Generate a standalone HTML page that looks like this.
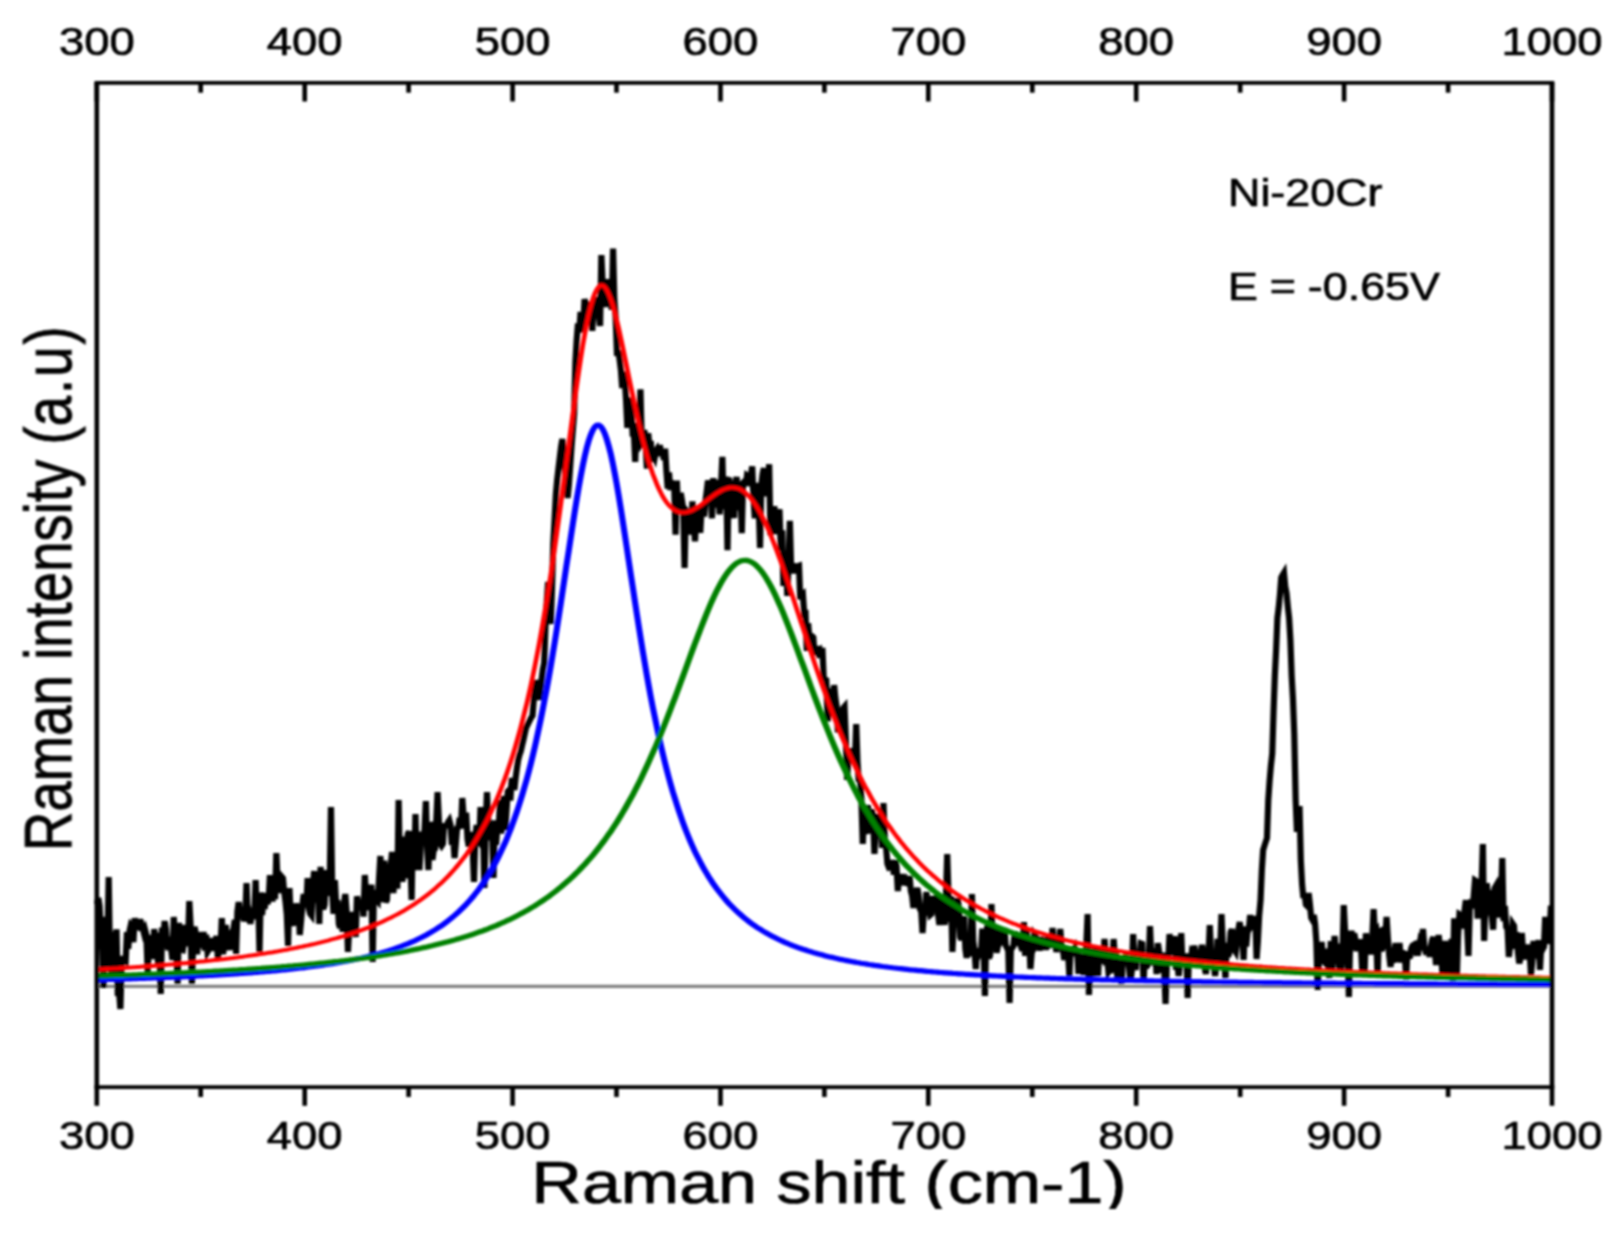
<!DOCTYPE html>
<html><head><meta charset="utf-8"><title>Raman spectrum Ni-20Cr</title>
<style>
html,body{margin:0;padding:0;background:#fff;}
body{width:1619px;height:1240px;overflow:hidden;}
svg{display:block;}
text{font-family:"Liberation Sans",Arial,sans-serif;fill:#000;stroke:#000;stroke-width:0.7px;}
</style></head><body>
<svg width="1619" height="1240" viewBox="0 0 1619 1240">
<defs><clipPath id="xt"><rect x="400" y="1120" width="900" height="88.6"/></clipPath><filter id="soft" filterUnits="userSpaceOnUse" x="0" y="0" width="1619" height="1240"><feGaussianBlur stdDeviation="0.8"/></filter></defs>
<rect width="1619" height="1240" fill="#fff"/>
<g filter="url(#soft)">
<g id="plot" transform="scale(1.170,1)" fill="none">
<line x1="82.7" y1="986.3" x2="1326.5" y2="986.3" stroke="#808080" stroke-width="3.2"/>
<path d="M82.9,904.0 L84.0,897.8 L85.1,906.0 L86.2,934.2 L87.4,950.1 L88.5,988.0 L89.6,928.0 L90.7,916.9 L91.8,944.8 L92.9,877.0 L94.0,962.4 L95.1,977.3 L96.2,978.0 L97.4,931.7 L98.5,940.0 L99.6,929.4 L100.7,996.0 L101.8,992.0 L102.9,1009.0 L104.0,962.7 L105.1,956.3 L106.2,960.0 L107.4,961.2 L108.5,932.0 L109.6,948.9 L110.7,930.9 L111.8,925.0 L112.9,926.5 L114.0,942.2 L115.1,918.0 L116.2,926.5 L117.4,921.9 L118.5,930.0 L119.6,918.9 L120.7,930.8 L121.8,928.0 L122.9,932.9 L124.0,929.8 L125.1,934.6 L126.2,972.0 L127.4,943.5 L128.5,950.4 L129.6,935.0 L130.7,959.2 L131.8,929.0 L132.9,950.3 L134.0,932.6 L135.1,965.0 L136.2,952.6 L137.4,994.0 L138.5,927.6 L139.6,940.1 L140.7,921.0 L141.8,929.1 L142.9,945.4 L144.0,950.0 L145.1,936.6 L146.2,948.4 L147.4,960.1 L148.5,917.0 L149.6,939.9 L150.7,950.7 L151.8,984.0 L152.9,922.9 L154.0,936.1 L155.1,950.0 L156.2,950.4 L157.4,940.7 L158.5,925.0 L159.6,946.0 L160.7,941.8 L161.8,901.0 L162.9,925.5 L164.0,984.0 L165.1,945.0 L166.2,926.7 L167.4,933.0 L168.5,954.3 L169.6,932.1 L170.7,940.0 L171.8,948.0 L172.9,940.2 L174.0,932.0 L175.1,950.7 L176.2,934.8 L177.4,952.0 L178.5,949.8 L179.6,939.8 L180.7,951.0 L181.8,938.0 L182.9,945.9 L184.0,942.5 L185.1,935.9 L186.2,958.0 L187.4,948.4 L188.5,946.7 L189.6,918.0 L190.7,954.3 L191.8,940.2 L192.9,925.0 L194.0,945.8 L195.1,943.0 L196.2,950.0 L197.4,934.7 L198.5,931.2 L199.6,928.7 L200.7,919.8 L201.8,954.0 L202.9,911.6 L204.0,902.0 L205.1,912.1 L206.2,918.9 L207.4,910.0 L208.5,921.3 L209.6,917.5 L210.7,883.0 L211.8,918.0 L212.9,915.3 L214.0,924.0 L215.1,914.4 L216.2,908.0 L217.4,914.6 L218.5,880.0 L219.6,919.3 L220.7,899.3 L221.8,952.0 L222.9,892.5 L224.0,915.0 L225.1,901.3 L226.2,909.0 L227.4,893.0 L228.5,904.1 L229.6,900.0 L230.7,875.2 L231.8,884.0 L232.9,901.5 L234.0,880.0 L235.1,899.1 L236.2,853.0 L237.4,886.1 L238.5,892.9 L239.6,886.1 L240.7,876.5 L241.8,878.0 L242.9,892.0 L244.0,901.5 L245.1,914.2 L246.2,946.0 L247.4,888.0 L248.5,918.1 L249.6,926.0 L250.7,912.3 L251.8,925.5 L252.9,903.3 L254.0,919.4 L255.1,904.0 L256.2,935.0 L257.4,920.0 L258.5,904.6 L259.6,894.0 L260.7,896.8 L261.8,907.5 L262.9,878.0 L264.0,908.9 L265.1,914.0 L266.2,915.6 L267.4,886.0 L268.5,871.0 L269.6,894.7 L270.7,902.5 L271.8,888.8 L272.9,924.0 L274.0,866.8 L275.1,901.2 L276.2,909.4 L277.4,905.0 L278.5,870.0 L279.6,896.0 L280.7,871.5 L281.8,881.5 L282.9,807.0 L284.0,894.1 L285.1,913.8 L286.2,880.0 L287.4,906.3 L288.5,900.0 L289.6,924.0 L290.7,928.0 L291.8,907.2 L292.9,932.0 L294.0,903.4 L295.1,894.0 L296.2,910.3 L297.4,952.0 L298.5,927.5 L299.6,933.6 L300.7,912.0 L301.8,923.6 L302.9,918.0 L304.0,937.0 L305.1,896.2 L306.2,902.4 L307.4,910.0 L308.5,902.3 L309.6,901.8 L310.7,916.6 L311.8,875.0 L312.9,895.9 L314.0,910.3 L315.1,896.1 L316.2,890.0 L317.4,884.9 L318.5,962.0 L319.6,890.0 L320.7,894.6 L321.8,900.0 L322.9,901.5 L324.0,878.0 L325.1,856.0 L326.2,881.1 L327.4,902.0 L328.5,860.6 L329.6,902.4 L330.7,900.1 L331.8,873.8 L332.9,866.0 L334.0,865.8 L335.1,851.9 L336.2,893.0 L337.4,873.4 L338.5,872.9 L339.6,888.6 L340.7,800.0 L341.8,869.2 L342.9,849.9 L344.0,882.0 L345.1,836.5 L346.2,878.4 L347.4,857.7 L348.5,834.0 L349.6,831.1 L350.7,855.2 L351.8,900.0 L352.9,831.3 L354.0,870.3 L355.1,814.0 L356.2,866.7 L357.4,858.4 L358.5,870.0 L359.6,846.9 L360.7,831.7 L361.8,845.4 L362.9,828.6 L364.0,801.0 L365.1,848.0 L366.2,870.0 L367.4,822.2 L368.5,825.8 L369.6,860.0 L370.7,849.9 L371.8,849.0 L372.9,820.6 L374.0,792.0 L375.1,819.6 L376.2,843.8 L377.4,846.0 L378.5,844.0 L379.6,823.4 L380.7,826.3 L381.8,826.0 L382.9,822.0 L384.0,820.1 L385.1,825.0 L386.2,844.9 L387.4,838.2 L388.5,858.0 L389.6,843.2 L390.7,827.9 L391.8,827.3 L392.9,817.7 L394.0,828.5 L395.1,798.0 L396.2,815.5 L397.4,814.9 L398.5,815.0 L399.6,839.2 L400.7,846.7 L401.8,832.0 L402.9,841.8 L404.0,848.8 L405.1,882.0 L406.2,837.5 L407.4,824.9 L408.5,840.0 L409.6,841.8 L410.7,807.0 L411.8,839.3 L412.9,828.9 L414.0,888.0 L415.1,825.6 L416.2,792.0 L417.4,820.3 L418.5,840.0 L419.6,834.6 L420.7,834.5 L421.8,878.0 L422.9,820.3 L424.0,844.8 L425.1,826.6 L426.2,830.0 L427.4,800.0 L428.5,833.6 L429.6,803.7 L430.7,796.1 L431.8,830.0 L432.9,810.8 L434.0,791.2 L435.1,790.0 L436.2,800.5 L437.4,778.0 L438.5,784.0 L439.6,790.0 L440.7,778.0 L441.8,768.2 L442.9,760.0 L444.0,755.0 L445.1,751.4 L446.2,745.5 L447.4,739.7 L448.5,733.8 L449.6,728.0 L450.7,725.4 L451.8,722.8 L452.9,720.2 L454.0,717.6 L455.1,716.0 L456.2,699.8 L457.4,688.1 L458.5,680.0 L459.6,691.3 L460.7,700.0 L461.8,689.8 L462.9,679.5 L464.0,669.3 L465.1,663.0 L466.2,627.0 L467.4,600.0 L468.5,582.0 L469.6,601.6 L470.7,624.0 L471.8,589.0 L472.9,543.5 L474.0,519.0 L475.1,494.3 L476.2,480.0 L477.4,467.7 L478.5,457.0 L479.6,446.4 L480.7,439.0 L481.8,456.6 L482.9,470.0 L484.0,482.1 L485.1,498.0 L486.2,484.7 L487.4,465.5 L488.5,446.3 L489.6,430.0 L490.7,414.0 L491.8,362.0 L492.9,340.0 L494.0,323.5 L495.1,332.5 L496.2,312.0 L497.4,331.5 L498.5,327.2 L499.6,299.0 L500.7,304.0 L501.8,321.8 L502.9,312.0 L504.0,304.8 L505.1,302.4 L506.2,331.0 L507.4,302.9 L508.5,315.3 L509.6,297.0 L510.7,314.6 L511.8,315.1 L512.9,326.0 L514.0,255.0 L515.1,284.7 L516.2,307.0 L517.4,291.0 L518.5,279.0 L519.6,307.0 L520.7,283.6 L521.8,298.5 L522.9,309.7 L524.0,248.5 L525.1,300.0 L526.2,317.5 L527.4,356.0 L528.5,350.5 L529.6,360.0 L530.7,370.2 L531.8,388.1 L532.9,372.0 L534.0,378.9 L535.1,400.0 L536.2,428.0 L537.4,397.8 L538.5,402.4 L539.6,410.0 L540.7,433.4 L541.8,433.1 L542.9,462.0 L544.0,423.1 L545.1,431.2 L546.2,434.0 L547.4,389.3 L548.5,442.7 L549.6,440.7 L550.7,430.0 L551.8,443.3 L552.9,468.7 L554.0,433.2 L555.1,445.7 L556.2,440.9 L557.4,461.9 L558.5,454.5 L559.6,457.5 L560.7,450.7 L561.8,448.7 L562.9,452.0 L564.0,445.0 L565.1,456.1 L566.2,448.7 L567.4,459.9 L568.5,448.6 L569.6,471.0 L570.7,488.7 L571.8,472.5 L572.9,490.0 L574.0,482.5 L575.1,482.9 L576.2,484.0 L577.4,534.7 L578.5,480.5 L579.6,512.4 L580.7,499.0 L581.8,492.9 L582.9,500.6 L584.0,508.9 L585.1,568.0 L586.2,509.8 L587.4,511.5 L588.5,520.0 L589.6,522.2 L590.7,534.6 L591.8,501.3 L592.9,522.0 L594.0,541.4 L595.1,516.6 L596.2,525.0 L597.4,508.1 L598.5,533.0 L599.6,509.5 L600.7,505.0 L601.8,516.6 L602.9,501.6 L604.0,491.6 L605.1,480.5 L606.2,484.8 L607.4,483.7 L608.5,518.4 L609.6,478.0 L610.7,507.3 L611.8,498.4 L612.9,480.0 L614.0,492.6 L615.1,514.4 L616.2,487.4 L617.4,456.8 L618.5,506.6 L619.6,506.3 L620.7,476.5 L621.8,550.3 L622.9,477.8 L624.0,483.9 L625.1,500.0 L626.2,512.9 L627.4,518.0 L628.5,483.9 L629.6,476.8 L630.7,510.3 L631.8,489.7 L632.9,487.5 L634.0,533.2 L635.1,482.6 L636.2,481.3 L637.4,486.0 L638.5,475.1 L639.6,476.0 L640.7,479.1 L641.8,475.3 L642.9,466.4 L644.0,497.3 L645.1,518.4 L646.2,505.0 L647.4,482.8 L648.5,505.5 L649.6,548.0 L650.7,484.8 L651.8,473.8 L652.9,468.0 L654.0,496.4 L655.1,480.0 L656.2,494.6 L657.4,464.2 L658.5,535.2 L659.6,518.4 L660.7,526.3 L661.8,506.1 L662.9,533.8 L664.0,529.4 L665.1,516.0 L666.2,509.3 L667.4,551.0 L668.5,530.2 L669.6,586.0 L670.7,575.0 L671.8,550.8 L672.9,596.0 L674.0,561.7 L675.1,520.8 L676.2,568.9 L677.4,564.7 L678.5,573.3 L679.6,566.0 L680.7,566.7 L681.8,565.7 L682.9,565.3 L684.0,599.4 L685.1,595.1 L686.2,594.0 L687.4,614.0 L688.5,613.5 L689.6,650.8 L690.7,623.3 L691.8,638.4 L692.9,649.0 L694.0,636.0 L695.1,637.2 L696.2,654.9 L697.4,650.8 L698.5,646.2 L699.6,652.5 L700.7,651.0 L701.8,657.9 L702.9,647.8 L704.0,677.7 L705.1,679.0 L706.2,679.7 L707.4,721.2 L708.5,706.5 L709.6,692.6 L710.7,694.1 L711.8,711.4 L712.9,685.0 L714.0,698.2 L715.1,706.6 L716.2,732.4 L717.4,725.0 L718.5,708.0 L719.6,735.0 L720.7,707.9 L721.8,706.4 L722.9,738.2 L724.0,779.9 L725.1,758.0 L726.2,762.7 L727.4,748.2 L728.5,760.0 L729.6,753.1 L730.7,761.6 L731.8,724.2 L732.9,761.8 L734.0,781.7 L735.1,778.4 L736.2,798.6 L737.4,844.0 L738.5,812.8 L739.6,834.2 L740.7,817.3 L741.8,805.1 L742.9,833.7 L744.0,814.0 L745.1,809.5 L746.2,817.5 L747.4,854.0 L748.5,822.5 L749.6,814.0 L750.7,823.0 L751.8,818.2 L752.9,829.1 L754.0,847.9 L755.1,803.0 L756.2,838.7 L757.4,848.0 L758.5,864.0 L759.6,867.3 L760.7,866.5 L761.8,870.0 L762.9,860.0 L764.0,874.7 L765.1,860.5 L766.2,865.7 L767.4,891.0 L768.5,875.7 L769.6,878.6 L770.7,874.0 L771.8,885.0 L772.9,881.9 L774.0,879.8 L775.1,883.2 L776.2,884.1 L777.4,876.0 L778.5,891.2 L779.6,895.8 L780.7,908.0 L781.8,893.0 L782.9,891.8 L784.0,888.0 L785.1,894.5 L786.2,909.1 L787.4,911.5 L788.5,933.0 L789.6,912.4 L790.7,912.6 L791.8,892.0 L792.9,915.1 L794.0,908.1 L795.1,915.1 L796.2,914.0 L797.4,895.9 L798.5,904.4 L799.6,900.0 L800.7,895.7 L801.8,914.8 L802.9,925.0 L804.0,897.4 L805.1,904.2 L806.2,912.0 L807.4,924.9 L808.5,896.8 L809.6,854.0 L810.7,895.9 L811.8,921.9 L812.9,896.4 L814.0,952.0 L815.1,923.2 L816.2,911.1 L817.4,920.1 L818.5,898.0 L819.6,908.4 L820.7,937.4 L821.8,940.0 L822.9,921.3 L824.0,916.2 L825.1,948.8 L826.2,958.0 L827.4,945.6 L828.5,956.2 L829.6,946.6 L830.7,894.0 L831.8,941.1 L832.9,950.2 L834.0,969.1 L835.1,948.2 L836.2,956.0 L837.4,953.2 L838.5,952.4 L839.6,928.5 L840.7,944.5 L841.8,996.0 L842.9,935.7 L844.0,925.0 L845.1,958.4 L846.2,955.7 L847.4,904.0 L848.5,946.6 L849.6,931.8 L850.7,926.8 L851.8,952.8 L852.9,946.0 L854.0,944.2 L855.1,934.0 L856.2,927.2 L857.4,945.0 L858.5,927.9 L859.6,945.6 L860.7,948.0 L861.8,950.9 L862.9,1003.0 L864.0,948.8 L865.1,948.1 L866.2,946.0 L867.4,931.3 L868.5,940.8 L869.6,939.2 L870.7,942.5 L871.8,942.0 L872.9,947.8 L874.0,951.0 L875.1,922.0 L876.2,955.8 L877.4,930.8 L878.5,946.2 L879.6,940.5 L880.7,969.0 L881.8,952.7 L882.9,950.2 L884.0,934.2 L885.1,936.0 L886.2,947.0 L887.4,940.4 L888.5,950.8 L889.6,936.6 L890.7,942.7 L891.8,942.1 L892.9,941.9 L894.0,950.0 L895.1,939.0 L896.2,935.6 L897.4,944.7 L898.5,947.7 L899.6,928.0 L900.7,942.7 L901.8,938.3 L902.9,952.0 L904.0,944.9 L905.1,947.7 L906.2,929.0 L907.4,946.9 L908.5,949.9 L909.6,959.9 L910.7,956.0 L911.8,947.8 L912.9,952.7 L914.0,976.0 L915.1,946.9 L916.2,951.5 L917.4,950.7 L918.5,948.2 L919.6,956.0 L920.7,950.6 L921.8,973.8 L922.9,960.0 L924.0,956.8 L925.1,957.9 L926.2,975.1 L927.4,958.7 L928.5,943.8 L929.6,914.0 L930.7,995.0 L931.8,965.1 L932.9,948.3 L934.0,976.3 L935.1,960.0 L936.2,946.2 L937.4,955.2 L938.5,976.0 L939.6,948.7 L940.7,963.7 L941.8,951.6 L942.9,961.3 L944.0,939.0 L945.1,958.2 L946.2,956.4 L947.4,972.0 L948.5,970.0 L949.6,970.3 L950.7,964.0 L951.8,939.0 L952.9,957.2 L954.0,956.0 L955.1,980.0 L956.2,966.0 L957.4,973.8 L958.5,984.0 L959.6,960.1 L960.7,958.0 L961.8,959.8 L962.9,957.5 L964.0,960.3 L965.1,968.5 L966.2,982.7 L967.4,970.1 L968.5,934.0 L969.6,962.0 L970.7,970.0 L971.8,949.8 L972.9,961.3 L974.0,956.6 L975.1,943.1 L976.2,943.6 L977.4,982.0 L978.5,955.3 L979.6,968.0 L980.7,965.4 L981.8,962.1 L982.9,926.0 L984.0,957.4 L985.1,964.9 L986.2,960.2 L987.4,948.0 L988.5,974.1 L989.6,943.0 L990.7,951.7 L991.8,970.0 L992.9,970.5 L994.0,952.7 L995.1,972.1 L996.2,1004.0 L997.4,958.4 L998.5,960.8 L999.6,934.0 L1000.7,954.5 L1001.8,943.7 L1002.9,946.2 L1004.0,936.0 L1005.1,969.7 L1006.2,963.0 L1007.4,976.0 L1008.5,962.5 L1009.6,933.0 L1010.7,966.1 L1011.8,962.0 L1012.9,966.6 L1014.0,953.2 L1015.1,998.0 L1016.2,953.8 L1017.4,966.9 L1018.5,953.9 L1019.6,956.0 L1020.7,945.6 L1021.8,956.3 L1022.9,952.9 L1024.0,964.4 L1025.1,950.0 L1026.2,953.0 L1027.4,945.0 L1028.5,952.1 L1029.6,967.5 L1030.7,974.0 L1031.8,954.2 L1032.9,955.8 L1034.0,925.0 L1035.1,954.3 L1036.2,957.2 L1037.4,963.2 L1038.5,976.0 L1039.6,965.2 L1040.7,938.8 L1041.8,962.8 L1042.9,948.8 L1044.0,914.0 L1045.1,943.7 L1046.2,959.0 L1047.4,978.0 L1048.5,942.9 L1049.6,956.7 L1050.7,952.8 L1051.8,932.2 L1052.9,929.0 L1054.0,947.6 L1055.1,950.0 L1056.2,952.0 L1057.4,941.0 L1058.5,929.2 L1059.6,922.0 L1060.7,935.0 L1061.8,935.8 L1062.9,960.0 L1064.0,926.3 L1065.1,946.6 L1066.2,932.2 L1067.4,929.8 L1068.5,915.0 L1069.6,927.0 L1070.7,920.4 L1071.8,930.0 L1072.9,915.9 L1074.0,959.0 L1075.1,941.3 L1076.2,915.7 L1077.4,900.0 L1078.5,870.0 L1079.6,850.0 L1080.7,845.8 L1081.8,841.9 L1082.9,838.0 L1084.0,800.0 L1085.1,781.4 L1086.2,766.3 L1087.4,753.5 L1088.5,712.0 L1089.6,676.0 L1090.7,650.0 L1091.8,618.0 L1092.9,607.6 L1094.0,594.1 L1095.1,577.4 L1096.2,574.9 L1097.4,572.6 L1098.5,586.5 L1099.6,593.0 L1100.7,606.6 L1101.8,618.0 L1102.9,640.0 L1104.0,676.0 L1105.1,699.2 L1106.2,734.0 L1107.4,800.0 L1108.5,832.0 L1109.6,822.9 L1110.7,806.0 L1111.8,860.0 L1112.9,884.3 L1114.0,898.0 L1115.1,894.2 L1116.2,905.0 L1117.4,906.4 L1118.5,893.0 L1119.6,904.5 L1120.7,918.0 L1121.8,920.2 L1122.9,914.8 L1124.0,924.0 L1125.1,942.0 L1126.2,990.0 L1127.4,957.4 L1128.5,948.0 L1129.6,942.0 L1130.7,960.6 L1131.8,962.0 L1132.9,949.1 L1134.0,952.8 L1135.1,960.5 L1136.2,978.0 L1137.4,941.1 L1138.5,971.7 L1139.6,954.2 L1140.7,936.0 L1141.8,953.0 L1142.9,943.6 L1144.0,960.0 L1145.1,971.2 L1146.2,970.3 L1147.4,955.3 L1148.5,905.0 L1149.6,930.4 L1150.7,940.4 L1151.8,956.3 L1152.9,997.0 L1154.0,939.7 L1155.1,930.7 L1156.2,950.0 L1157.4,933.2 L1158.5,939.9 L1159.6,951.3 L1160.7,942.3 L1161.8,950.9 L1162.9,939.0 L1164.0,964.5 L1165.1,963.1 L1166.2,976.0 L1167.4,933.2 L1168.5,949.3 L1169.6,945.8 L1170.7,942.6 L1171.8,954.6 L1172.9,937.1 L1174.0,909.0 L1175.1,934.2 L1176.2,932.2 L1177.4,978.0 L1178.5,933.2 L1179.6,928.0 L1180.7,951.0 L1181.8,947.7 L1182.9,926.8 L1184.0,938.0 L1185.1,917.0 L1186.2,938.2 L1187.4,956.0 L1188.5,967.0 L1189.6,951.3 L1190.7,958.7 L1191.8,951.4 L1192.9,943.1 L1194.0,959.4 L1195.1,958.9 L1196.2,943.0 L1197.4,962.5 L1198.5,950.3 L1199.6,959.0 L1200.7,953.0 L1201.8,979.7 L1202.9,951.3 L1204.0,957.1 L1205.1,956.6 L1206.2,948.2 L1207.4,945.2 L1208.5,944.4 L1209.6,949.0 L1210.7,946.7 L1211.8,955.6 L1212.9,947.4 L1214.0,939.7 L1215.1,941.4 L1216.2,929.0 L1217.4,947.4 L1218.5,951.8 L1219.6,951.2 L1220.7,946.7 L1221.8,957.0 L1222.9,946.7 L1224.0,940.1 L1225.1,937.0 L1226.2,946.2 L1227.4,965.0 L1228.5,948.8 L1229.6,935.0 L1230.7,946.8 L1231.8,953.6 L1232.9,975.0 L1234.0,951.0 L1235.1,941.0 L1236.2,957.3 L1237.4,979.7 L1238.5,966.1 L1239.6,960.2 L1240.7,939.0 L1241.8,981.0 L1242.9,918.4 L1244.0,949.9 L1245.1,979.7 L1246.2,936.3 L1247.4,914.0 L1248.5,914.8 L1249.6,924.0 L1250.7,928.3 L1251.8,910.0 L1252.9,900.1 L1254.0,928.1 L1255.1,956.0 L1256.2,908.7 L1257.4,899.6 L1258.5,908.4 L1259.6,896.1 L1260.7,880.0 L1261.8,880.8 L1262.9,918.6 L1264.0,881.6 L1265.1,912.2 L1266.2,888.6 L1267.4,844.0 L1268.5,941.0 L1269.6,899.8 L1270.7,883.3 L1271.8,899.0 L1272.9,890.1 L1274.0,911.4 L1275.1,917.4 L1276.2,929.7 L1277.4,888.2 L1278.5,886.0 L1279.6,902.7 L1280.7,917.5 L1281.8,899.0 L1282.9,898.5 L1284.0,858.0 L1285.1,921.1 L1286.2,905.8 L1287.4,927.2 L1288.5,928.7 L1289.6,957.0 L1290.7,946.6 L1291.8,939.7 L1292.9,923.7 L1294.0,925.6 L1295.1,948.8 L1296.2,932.2 L1297.4,952.4 L1298.5,963.5 L1299.6,958.1 L1300.7,933.0 L1301.8,953.7 L1302.9,945.8 L1304.0,959.4 L1305.1,953.3 L1306.2,944.7 L1307.4,950.9 L1308.5,974.8 L1309.6,961.9 L1310.7,941.0 L1311.8,949.9 L1312.9,952.4 L1314.0,948.2 L1315.1,940.2 L1316.2,970.0 L1317.4,943.5 L1318.5,949.3 L1319.6,946.8 L1320.7,916.8 L1321.8,940.4 L1322.9,930.4 L1324.0,944.0 L1325.6,905.5" stroke="#000" stroke-width="5.3" stroke-linejoin="miter"/>
<path d="M82.7,969.5 L84.4,969.4 L86.2,969.3 L87.9,969.2 L89.6,969.1 L91.3,969.0 L93.0,968.8 L94.7,968.7 L96.4,968.6 L98.1,968.5 L99.8,968.4 L101.5,968.2 L103.2,968.1 L105.0,968.0 L106.7,967.8 L108.4,967.7 L110.1,967.6 L111.8,967.4 L113.5,967.3 L115.2,967.2 L116.9,967.0 L118.6,966.9 L120.3,966.7 L122.1,966.6 L123.8,966.5 L125.5,966.3 L127.2,966.2 L128.9,966.0 L130.6,965.9 L132.3,965.7 L134.0,965.5 L135.7,965.4 L137.4,965.2 L139.1,965.1 L140.9,964.9 L142.6,964.7 L144.3,964.6 L146.0,964.4 L147.7,964.2 L149.4,964.1 L151.1,963.9 L152.8,963.7 L154.5,963.5 L156.2,963.3 L157.9,963.2 L159.7,963.0 L161.4,962.8 L163.1,962.6 L164.8,962.4 L166.5,962.2 L168.2,962.0 L169.9,961.8 L171.6,961.6 L173.3,961.4 L175.0,961.2 L176.8,961.0 L178.5,960.8 L180.2,960.6 L181.9,960.3 L183.6,960.1 L185.3,959.9 L187.0,959.7 L188.7,959.4 L190.4,959.2 L192.1,959.0 L193.8,958.7 L195.6,958.5 L197.3,958.2 L199.0,958.0 L200.7,957.7 L202.4,957.5 L204.1,957.2 L205.8,956.9 L207.5,956.7 L209.2,956.4 L210.9,956.1 L212.6,955.8 L214.4,955.6 L216.1,955.3 L217.8,955.0 L219.5,954.7 L221.2,954.4 L222.9,954.1 L224.6,953.8 L226.3,953.5 L228.0,953.1 L229.7,952.8 L231.5,952.5 L233.2,952.2 L234.9,951.8 L236.6,951.5 L238.3,951.1 L240.0,950.8 L241.7,950.4 L243.4,950.0 L245.1,949.7 L246.8,949.3 L248.5,948.9 L250.3,948.5 L252.0,948.1 L253.7,947.7 L255.4,947.3 L257.1,946.9 L258.8,946.5 L260.5,946.0 L262.2,945.6 L263.9,945.2 L265.6,944.7 L267.4,944.3 L269.1,943.8 L270.8,943.3 L272.5,942.8 L274.2,942.3 L275.9,941.8 L277.6,941.3 L279.3,940.8 L281.0,940.3 L282.7,939.7 L284.4,939.2 L286.2,938.6 L287.9,938.1 L289.6,937.5 L291.3,936.9 L293.0,936.3 L294.7,935.7 L296.4,935.1 L298.1,934.4 L299.8,933.8 L301.5,933.1 L303.2,932.5 L305.0,931.8 L306.7,931.1 L308.4,930.4 L310.1,929.6 L311.8,928.9 L313.5,928.1 L315.2,927.4 L316.9,926.6 L318.6,925.8 L320.3,924.9 L322.1,924.1 L323.8,923.2 L325.5,922.4 L327.2,921.5 L328.9,920.5 L330.6,919.6 L332.3,918.6 L334.0,917.7 L335.7,916.6 L337.4,915.6 L339.1,914.6 L340.9,913.5 L342.6,912.4 L344.3,911.3 L346.0,910.1 L347.7,908.9 L349.4,907.7 L351.1,906.5 L352.8,905.2 L354.5,903.9 L356.2,902.5 L357.9,901.2 L359.7,899.8 L361.4,898.3 L363.1,896.8 L364.8,895.3 L366.5,893.7 L368.2,892.1 L369.9,890.5 L371.6,888.8 L373.3,887.0 L375.0,885.2 L376.8,883.4 L378.5,881.5 L380.2,879.5 L381.9,877.5 L383.6,875.5 L385.3,873.3 L387.0,871.1 L388.7,868.9 L390.4,866.5 L392.1,864.1 L393.8,861.6 L395.6,859.0 L397.3,856.4 L399.0,853.7 L400.7,850.8 L402.4,847.9 L404.1,844.9 L405.8,841.8 L407.5,838.5 L409.2,835.2 L410.9,831.7 L412.6,828.1 L414.4,824.4 L416.1,820.6 L417.8,816.6 L419.5,812.4 L421.2,808.1 L422.9,803.7 L424.6,799.1 L426.3,794.3 L428.0,789.3 L429.7,784.1 L431.5,778.7 L433.2,773.1 L434.9,767.3 L436.6,761.3 L438.3,755.0 L440.0,748.4 L441.7,741.6 L443.4,734.5 L445.1,727.1 L446.8,719.5 L448.5,711.5 L450.3,703.1 L452.0,694.5 L453.7,685.5 L455.4,676.1 L457.1,666.4 L458.8,656.2 L460.5,645.7 L462.2,634.8 L463.9,623.5 L465.6,611.8 L467.4,599.6 L469.1,587.1 L470.8,574.2 L472.5,560.8 L474.2,547.2 L475.9,533.1 L477.6,518.8 L479.3,504.2 L481.0,489.3 L482.7,474.3 L484.4,459.2 L486.2,444.0 L487.9,429.0 L489.6,414.0 L491.3,399.4 L493.0,385.1 L494.7,371.2 L496.4,358.1 L498.1,345.6 L499.8,334.1 L501.5,323.5 L503.2,314.1 L505.0,305.8 L506.7,298.9 L508.4,293.4 L510.1,289.3 L511.8,286.6 L513.5,285.3 L515.2,285.5 L516.9,287.1 L518.6,290.0 L520.3,294.1 L522.1,299.3 L523.8,305.6 L525.5,312.7 L527.2,320.5 L528.9,329.0 L530.6,338.0 L532.3,347.4 L534.0,357.0 L535.7,366.7 L537.4,376.5 L539.1,386.2 L540.9,395.8 L542.6,405.3 L544.3,414.4 L546.0,423.2 L547.7,431.7 L549.4,439.8 L551.1,447.5 L552.8,454.7 L554.5,461.5 L556.2,467.9 L557.9,473.8 L559.7,479.2 L561.4,484.2 L563.1,488.7 L564.8,492.8 L566.5,496.5 L568.2,499.7 L569.9,502.6 L571.6,505.0 L573.3,507.1 L575.0,508.8 L576.8,510.1 L578.5,511.2 L580.2,511.9 L581.9,512.4 L583.6,512.5 L585.3,512.4 L587.0,512.1 L588.7,511.6 L590.4,510.9 L592.1,510.0 L593.8,508.9 L595.6,507.7 L597.3,506.4 L599.0,505.1 L600.7,503.6 L602.4,502.1 L604.1,500.6 L605.8,499.0 L607.5,497.5 L609.2,496.0 L610.9,494.6 L612.6,493.2 L614.4,492.0 L616.1,490.8 L617.8,489.8 L619.5,489.0 L621.2,488.3 L622.9,487.8 L624.6,487.6 L626.3,487.5 L628.0,487.7 L629.7,488.1 L631.5,488.7 L633.2,489.7 L634.9,490.9 L636.6,492.3 L638.3,494.0 L640.0,496.1 L641.7,498.3 L643.4,500.9 L645.1,503.7 L646.8,506.8 L648.5,510.2 L650.3,513.8 L652.0,517.7 L653.7,521.8 L655.4,526.1 L657.1,530.6 L658.8,535.4 L660.5,540.3 L662.2,545.4 L663.9,550.7 L665.6,556.1 L667.4,561.6 L669.1,567.3 L670.8,573.0 L672.5,578.9 L674.2,584.8 L675.9,590.8 L677.6,596.9 L679.3,603.0 L681.0,609.1 L682.7,615.2 L684.4,621.4 L686.2,627.5 L687.9,633.6 L689.6,639.7 L691.3,645.8 L693.0,651.8 L694.7,657.8 L696.4,663.7 L698.1,669.6 L699.8,675.4 L701.5,681.1 L703.2,686.8 L705.0,692.4 L706.7,697.9 L708.4,703.3 L710.1,708.7 L711.8,713.9 L713.5,719.1 L715.2,724.2 L716.9,729.2 L718.6,734.1 L720.3,738.9 L722.1,743.6 L723.8,748.2 L725.5,752.8 L727.2,757.2 L728.9,761.6 L730.6,765.8 L732.3,770.0 L734.0,774.1 L735.7,778.1 L737.4,782.0 L739.1,785.8 L740.9,789.5 L742.6,793.2 L744.3,796.8 L746.0,800.3 L747.7,803.7 L749.4,807.0 L751.1,810.3 L752.8,813.5 L754.5,816.6 L756.2,819.7 L757.9,822.7 L759.7,825.6 L761.4,828.4 L763.1,831.2 L764.8,834.0 L766.5,836.6 L768.2,839.2 L769.9,841.8 L771.6,844.2 L773.3,846.7 L775.0,849.0 L776.8,851.4 L778.5,853.6 L780.2,855.9 L781.9,858.0 L783.6,860.1 L785.3,862.2 L787.0,864.2 L788.7,866.2 L790.4,868.2 L792.1,870.1 L793.8,871.9 L795.6,873.7 L797.3,875.5 L799.0,877.2 L800.7,878.9 L802.4,880.6 L804.1,882.2 L805.8,883.8 L807.5,885.4 L809.2,886.9 L810.9,888.4 L812.6,889.9 L814.4,891.3 L816.1,892.7 L817.8,894.1 L819.5,895.4 L821.2,896.7 L822.9,898.0 L824.6,899.3 L826.3,900.5 L828.0,901.8 L829.7,902.9 L831.5,904.1 L833.2,905.3 L834.9,906.4 L836.6,907.5 L838.3,908.6 L840.0,909.6 L841.7,910.6 L843.4,911.7 L845.1,912.7 L846.8,913.6 L848.5,914.6 L850.3,915.5 L852.0,916.5 L853.7,917.4 L855.4,918.3 L857.1,919.1 L858.8,920.0 L860.5,920.8 L862.2,921.7 L863.9,922.5 L865.6,923.3 L867.4,924.0 L869.1,924.8 L870.8,925.6 L872.5,926.3 L874.2,927.0 L875.9,927.8 L877.6,928.5 L879.3,929.1 L881.0,929.8 L882.7,930.5 L884.4,931.1 L886.2,931.8 L887.9,932.4 L889.6,933.0 L891.3,933.7 L893.0,934.3 L894.7,934.9 L896.4,935.4 L898.1,936.0 L899.8,936.6 L901.5,937.1 L903.2,937.7 L905.0,938.2 L906.7,938.7 L908.4,939.3 L910.1,939.8 L911.8,940.3 L913.5,940.8 L915.2,941.3 L916.9,941.7 L918.6,942.2 L920.3,942.7 L922.1,943.1 L923.8,943.6 L925.5,944.0 L927.2,944.5 L928.9,944.9 L930.6,945.3 L932.3,945.7 L934.0,946.1 L935.7,946.5 L937.4,946.9 L939.1,947.3 L940.9,947.7 L942.6,948.1 L944.3,948.5 L946.0,948.9 L947.7,949.2 L949.4,949.6 L951.1,949.9 L952.8,950.3 L954.5,950.6 L956.2,951.0 L957.9,951.3 L959.7,951.6 L961.4,952.0 L963.1,952.3 L964.8,952.6 L966.5,952.9 L968.2,953.2 L969.9,953.5 L971.6,953.8 L973.3,954.1 L975.0,954.4 L976.8,954.7 L978.5,955.0 L980.2,955.3 L981.9,955.5 L983.6,955.8 L985.3,956.1 L987.0,956.4 L988.7,956.6 L990.4,956.9 L992.1,957.1 L993.8,957.4 L995.6,957.6 L997.3,957.9 L999.0,958.1 L1000.7,958.4 L1002.4,958.6 L1004.1,958.8 L1005.8,959.1 L1007.5,959.3 L1009.2,959.5 L1010.9,959.7 L1012.6,960.0 L1014.4,960.2 L1016.1,960.4 L1017.8,960.6 L1019.5,960.8 L1021.2,961.0 L1022.9,961.2 L1024.6,961.4 L1026.3,961.6 L1028.0,961.8 L1029.7,962.0 L1031.5,962.2 L1033.2,962.4 L1034.9,962.6 L1036.6,962.8 L1038.3,963.0 L1040.0,963.1 L1041.7,963.3 L1043.4,963.5 L1045.1,963.7 L1046.8,963.8 L1048.5,964.0 L1050.3,964.2 L1052.0,964.3 L1053.7,964.5 L1055.4,964.7 L1057.1,964.8 L1058.8,965.0 L1060.5,965.2 L1062.2,965.3 L1063.9,965.5 L1065.6,965.6 L1067.4,965.8 L1069.1,965.9 L1070.8,966.1 L1072.5,966.2 L1074.2,966.4 L1075.9,966.5 L1077.6,966.6 L1079.3,966.8 L1081.0,966.9 L1082.7,967.1 L1084.4,967.2 L1086.2,967.3 L1087.9,967.5 L1089.6,967.6 L1091.3,967.7 L1093.0,967.9 L1094.7,968.0 L1096.4,968.1 L1098.1,968.2 L1099.8,968.4 L1101.5,968.5 L1103.2,968.6 L1105.0,968.7 L1106.7,968.8 L1108.4,969.0 L1110.1,969.1 L1111.8,969.2 L1113.5,969.3 L1115.2,969.4 L1116.9,969.5 L1118.6,969.6 L1120.3,969.8 L1122.1,969.9 L1123.8,970.0 L1125.5,970.1 L1127.2,970.2 L1128.9,970.3 L1130.6,970.4 L1132.3,970.5 L1134.0,970.6 L1135.7,970.7 L1137.4,970.8 L1139.1,970.9 L1140.9,971.0 L1142.6,971.1 L1144.3,971.2 L1146.0,971.3 L1147.7,971.4 L1149.4,971.5 L1151.1,971.6 L1152.8,971.7 L1154.5,971.7 L1156.2,971.8 L1157.9,971.9 L1159.7,972.0 L1161.4,972.1 L1163.1,972.2 L1164.8,972.3 L1166.5,972.4 L1168.2,972.4 L1169.9,972.5 L1171.6,972.6 L1173.3,972.7 L1175.0,972.8 L1176.8,972.8 L1178.5,972.9 L1180.2,973.0 L1181.9,973.1 L1183.6,973.2 L1185.3,973.2 L1187.0,973.3 L1188.7,973.4 L1190.4,973.5 L1192.1,973.5 L1193.8,973.6 L1195.6,973.7 L1197.3,973.8 L1199.0,973.8 L1200.7,973.9 L1202.4,974.0 L1204.1,974.0 L1205.8,974.1 L1207.5,974.2 L1209.2,974.2 L1210.9,974.3 L1212.6,974.4 L1214.4,974.5 L1216.1,974.5 L1217.8,974.6 L1219.5,974.6 L1221.2,974.7 L1222.9,974.8 L1224.6,974.8 L1226.3,974.9 L1228.0,975.0 L1229.7,975.0 L1231.5,975.1 L1233.2,975.1 L1234.9,975.2 L1236.6,975.3 L1238.3,975.3 L1240.0,975.4 L1241.7,975.4 L1243.4,975.5 L1245.1,975.6 L1246.8,975.6 L1248.5,975.7 L1250.3,975.7 L1252.0,975.8 L1253.7,975.8 L1255.4,975.9 L1257.1,975.9 L1258.8,976.0 L1260.5,976.1 L1262.2,976.1 L1263.9,976.2 L1265.6,976.2 L1267.4,976.3 L1269.1,976.3 L1270.8,976.4 L1272.5,976.4 L1274.2,976.5 L1275.9,976.5 L1277.6,976.6 L1279.3,976.6 L1281.0,976.7 L1282.7,976.7 L1284.4,976.8 L1286.2,976.8 L1287.9,976.9 L1289.6,976.9 L1291.3,977.0 L1293.0,977.0 L1294.7,977.0 L1296.4,977.1 L1298.1,977.1 L1299.8,977.2 L1301.5,977.2 L1303.2,977.3 L1305.0,977.3 L1306.7,977.4 L1308.4,977.4 L1310.1,977.4 L1311.8,977.5 L1313.5,977.5 L1315.2,977.6 L1316.9,977.6 L1318.6,977.7 L1320.3,977.7 L1322.1,977.7 L1323.8,977.8 L1325.5,977.8 L1326.5,977.8" stroke="#ff0000" stroke-width="4.0"/>
<path d="M82.7,979.7 L84.4,979.7 L86.2,979.6 L87.9,979.6 L89.6,979.5 L91.3,979.5 L93.0,979.4 L94.7,979.4 L96.4,979.3 L98.1,979.2 L99.8,979.2 L101.5,979.1 L103.2,979.1 L105.0,979.0 L106.7,979.0 L108.4,978.9 L110.1,978.8 L111.8,978.8 L113.5,978.7 L115.2,978.6 L116.9,978.6 L118.6,978.5 L120.3,978.4 L122.1,978.4 L123.8,978.3 L125.5,978.2 L127.2,978.2 L128.9,978.1 L130.6,978.0 L132.3,977.9 L134.0,977.9 L135.7,977.8 L137.4,977.7 L139.1,977.6 L140.9,977.6 L142.6,977.5 L144.3,977.4 L146.0,977.3 L147.7,977.2 L149.4,977.1 L151.1,977.1 L152.8,977.0 L154.5,976.9 L156.2,976.8 L157.9,976.7 L159.7,976.6 L161.4,976.5 L163.1,976.4 L164.8,976.3 L166.5,976.2 L168.2,976.1 L169.9,976.0 L171.6,975.9 L173.3,975.8 L175.0,975.7 L176.8,975.6 L178.5,975.5 L180.2,975.4 L181.9,975.3 L183.6,975.2 L185.3,975.1 L187.0,974.9 L188.7,974.8 L190.4,974.7 L192.1,974.6 L193.8,974.5 L195.6,974.3 L197.3,974.2 L199.0,974.1 L200.7,973.9 L202.4,973.8 L204.1,973.7 L205.8,973.5 L207.5,973.4 L209.2,973.2 L210.9,973.1 L212.6,973.0 L214.4,972.8 L216.1,972.6 L217.8,972.5 L219.5,972.3 L221.2,972.2 L222.9,972.0 L224.6,971.8 L226.3,971.7 L228.0,971.5 L229.7,971.3 L231.5,971.1 L233.2,971.0 L234.9,970.8 L236.6,970.6 L238.3,970.4 L240.0,970.2 L241.7,970.0 L243.4,969.8 L245.1,969.6 L246.8,969.4 L248.5,969.2 L250.3,969.0 L252.0,968.7 L253.7,968.5 L255.4,968.3 L257.1,968.0 L258.8,967.8 L260.5,967.6 L262.2,967.3 L263.9,967.0 L265.6,966.8 L267.4,966.5 L269.1,966.3 L270.8,966.0 L272.5,965.7 L274.2,965.4 L275.9,965.1 L277.6,964.8 L279.3,964.5 L281.0,964.2 L282.7,963.9 L284.4,963.6 L286.2,963.2 L287.9,962.9 L289.6,962.5 L291.3,962.2 L293.0,961.8 L294.7,961.4 L296.4,961.1 L298.1,960.7 L299.8,960.3 L301.5,959.9 L303.2,959.5 L305.0,959.0 L306.7,958.6 L308.4,958.2 L310.1,957.7 L311.8,957.2 L313.5,956.8 L315.2,956.3 L316.9,955.8 L318.6,955.2 L320.3,954.7 L322.1,954.2 L323.8,953.6 L325.5,953.1 L327.2,952.5 L328.9,951.9 L330.6,951.3 L332.3,950.6 L334.0,950.0 L335.7,949.3 L337.4,948.6 L339.1,947.9 L340.9,947.2 L342.6,946.5 L344.3,945.7 L346.0,944.9 L347.7,944.1 L349.4,943.3 L351.1,942.4 L352.8,941.6 L354.5,940.7 L356.2,939.7 L357.9,938.8 L359.7,937.8 L361.4,936.8 L363.1,935.7 L364.8,934.7 L366.5,933.5 L368.2,932.4 L369.9,931.2 L371.6,930.0 L373.3,928.7 L375.0,927.4 L376.8,926.1 L378.5,924.7 L380.2,923.2 L381.9,921.8 L383.6,920.2 L385.3,918.6 L387.0,917.0 L388.7,915.3 L390.4,913.5 L392.1,911.7 L393.8,909.8 L395.6,907.8 L397.3,905.8 L399.0,903.7 L400.7,901.5 L402.4,899.2 L404.1,896.9 L405.8,894.4 L407.5,891.9 L409.2,889.3 L410.9,886.5 L412.6,883.6 L414.4,880.7 L416.1,877.6 L417.8,874.4 L419.5,871.0 L421.2,867.5 L422.9,863.9 L424.6,860.1 L426.3,856.2 L428.0,852.0 L429.7,847.8 L431.5,843.3 L433.2,838.6 L434.9,833.7 L436.6,828.6 L438.3,823.3 L440.0,817.8 L441.7,812.0 L443.4,805.9 L445.1,799.6 L446.8,793.0 L448.5,786.1 L450.3,778.9 L452.0,771.4 L453.7,763.6 L455.4,755.4 L457.1,746.9 L458.8,738.0 L460.5,728.8 L462.2,719.2 L463.9,709.2 L465.6,698.9 L467.4,688.1 L469.1,677.0 L470.8,665.6 L472.5,653.7 L474.2,641.6 L475.9,629.1 L477.6,616.4 L479.3,603.4 L481.0,590.2 L482.7,576.9 L484.4,563.5 L486.2,550.2 L487.9,536.9 L489.6,523.9 L491.3,511.1 L493.0,498.8 L494.7,487.0 L496.4,475.8 L498.1,465.5 L499.8,456.1 L501.5,447.7 L503.2,440.6 L505.0,434.6 L506.7,430.1 L508.4,426.9 L510.1,425.3 L511.8,425.1 L513.5,426.5 L515.2,429.3 L516.9,433.6 L518.6,439.3 L520.3,446.2 L522.1,454.3 L523.8,463.6 L525.5,473.7 L527.2,484.7 L528.9,496.4 L530.6,508.6 L532.3,521.3 L534.0,534.3 L535.7,547.5 L537.4,560.9 L539.1,574.2 L540.9,587.6 L542.6,600.8 L544.3,613.8 L546.0,626.6 L547.7,639.1 L549.4,651.3 L551.1,663.2 L552.8,674.8 L554.5,686.0 L556.2,696.8 L557.9,707.2 L559.7,717.2 L561.4,726.9 L563.1,736.2 L564.8,745.2 L566.5,753.8 L568.2,762.0 L569.9,769.9 L571.6,777.5 L573.3,784.7 L575.0,791.7 L576.8,798.3 L578.5,804.7 L580.2,810.8 L581.9,816.6 L583.6,822.2 L585.3,827.6 L587.0,832.7 L588.7,837.6 L590.4,842.4 L592.1,846.9 L593.8,851.2 L595.6,855.4 L597.3,859.3 L599.0,863.2 L600.7,866.8 L602.4,870.3 L604.1,873.7 L605.8,877.0 L607.5,880.1 L609.2,883.1 L610.9,885.9 L612.6,888.7 L614.4,891.4 L616.1,893.9 L617.8,896.4 L619.5,898.8 L621.2,901.1 L622.9,903.3 L624.6,905.4 L626.3,907.4 L628.0,909.4 L629.7,911.3 L631.5,913.2 L633.2,914.9 L634.9,916.7 L636.6,918.3 L638.3,919.9 L640.0,921.5 L641.7,923.0 L643.4,924.4 L645.1,925.8 L646.8,927.2 L648.5,928.5 L650.3,929.7 L652.0,931.0 L653.7,932.2 L655.4,933.3 L657.1,934.4 L658.8,935.5 L660.5,936.6 L662.2,937.6 L663.9,938.6 L665.6,939.5 L667.4,940.5 L669.1,941.4 L670.8,942.3 L672.5,943.1 L674.2,944.0 L675.9,944.8 L677.6,945.6 L679.3,946.3 L681.0,947.1 L682.7,947.8 L684.4,948.5 L686.2,949.2 L687.9,949.8 L689.6,950.5 L691.3,951.1 L693.0,951.7 L694.7,952.4 L696.4,952.9 L698.1,953.5 L699.8,954.1 L701.5,954.6 L703.2,955.1 L705.0,955.7 L706.7,956.2 L708.4,956.7 L710.1,957.1 L711.8,957.6 L713.5,958.1 L715.2,958.5 L716.9,958.9 L718.6,959.4 L720.3,959.8 L722.1,960.2 L723.8,960.6 L725.5,961.0 L727.2,961.4 L728.9,961.7 L730.6,962.1 L732.3,962.5 L734.0,962.8 L735.7,963.2 L737.4,963.5 L739.1,963.8 L740.9,964.1 L742.6,964.5 L744.3,964.8 L746.0,965.1 L747.7,965.4 L749.4,965.6 L751.1,965.9 L752.8,966.2 L754.5,966.5 L756.2,966.7 L757.9,967.0 L759.7,967.3 L761.4,967.5 L763.1,967.8 L764.8,968.0 L766.5,968.2 L768.2,968.5 L769.9,968.7 L771.6,968.9 L773.3,969.1 L775.0,969.3 L776.8,969.6 L778.5,969.8 L780.2,970.0 L781.9,970.2 L783.6,970.4 L785.3,970.6 L787.0,970.7 L788.7,970.9 L790.4,971.1 L792.1,971.3 L793.8,971.5 L795.6,971.6 L797.3,971.8 L799.0,972.0 L800.7,972.1 L802.4,972.3 L804.1,972.5 L805.8,972.6 L807.5,972.8 L809.2,972.9 L810.9,973.1 L812.6,973.2 L814.4,973.4 L816.1,973.5 L817.8,973.6 L819.5,973.8 L821.2,973.9 L822.9,974.0 L824.6,974.2 L826.3,974.3 L828.0,974.4 L829.7,974.6 L831.5,974.7 L833.2,974.8 L834.9,974.9 L836.6,975.0 L838.3,975.1 L840.0,975.3 L841.7,975.4 L843.4,975.5 L845.1,975.6 L846.8,975.7 L848.5,975.8 L850.3,975.9 L852.0,976.0 L853.7,976.1 L855.4,976.2 L857.1,976.3 L858.8,976.4 L860.5,976.5 L862.2,976.6 L863.9,976.7 L865.6,976.8 L867.4,976.9 L869.1,977.0 L870.8,977.0 L872.5,977.1 L874.2,977.2 L875.9,977.3 L877.6,977.4 L879.3,977.5 L881.0,977.5 L882.7,977.6 L884.4,977.7 L886.2,977.8 L887.9,977.8 L889.6,977.9 L891.3,978.0 L893.0,978.1 L894.7,978.1 L896.4,978.2 L898.1,978.3 L899.8,978.4 L901.5,978.4 L903.2,978.5 L905.0,978.6 L906.7,978.6 L908.4,978.7 L910.1,978.8 L911.8,978.8 L913.5,978.9 L915.2,978.9 L916.9,979.0 L918.6,979.1 L920.3,979.1 L922.1,979.2 L923.8,979.2 L925.5,979.3 L927.2,979.4 L928.9,979.4 L930.6,979.5 L932.3,979.5 L934.0,979.6 L935.7,979.6 L937.4,979.7 L939.1,979.7 L940.9,979.8 L942.6,979.8 L944.3,979.9 L946.0,979.9 L947.7,980.0 L949.4,980.0 L951.1,980.1 L952.8,980.1 L954.5,980.2 L956.2,980.2 L957.9,980.3 L959.7,980.3 L961.4,980.4 L963.1,980.4 L964.8,980.4 L966.5,980.5 L968.2,980.5 L969.9,980.6 L971.6,980.6 L973.3,980.7 L975.0,980.7 L976.8,980.7 L978.5,980.8 L980.2,980.8 L981.9,980.9 L983.6,980.9 L985.3,980.9 L987.0,981.0 L988.7,981.0 L990.4,981.0 L992.1,981.1 L993.8,981.1 L995.6,981.2 L997.3,981.2 L999.0,981.2 L1000.7,981.3 L1002.4,981.3 L1004.1,981.3 L1005.8,981.4 L1007.5,981.4 L1009.2,981.4 L1010.9,981.5 L1012.6,981.5 L1014.4,981.5 L1016.1,981.6 L1017.8,981.6 L1019.5,981.6 L1021.2,981.7 L1022.9,981.7 L1024.6,981.7 L1026.3,981.7 L1028.0,981.8 L1029.7,981.8 L1031.5,981.8 L1033.2,981.9 L1034.9,981.9 L1036.6,981.9 L1038.3,982.0 L1040.0,982.0 L1041.7,982.0 L1043.4,982.0 L1045.1,982.1 L1046.8,982.1 L1048.5,982.1 L1050.3,982.1 L1052.0,982.2 L1053.7,982.2 L1055.4,982.2 L1057.1,982.2 L1058.8,982.3 L1060.5,982.3 L1062.2,982.3 L1063.9,982.3 L1065.6,982.4 L1067.4,982.4 L1069.1,982.4 L1070.8,982.4 L1072.5,982.5 L1074.2,982.5 L1075.9,982.5 L1077.6,982.5 L1079.3,982.6 L1081.0,982.6 L1082.7,982.6 L1084.4,982.6 L1086.2,982.6 L1087.9,982.7 L1089.6,982.7 L1091.3,982.7 L1093.0,982.7 L1094.7,982.7 L1096.4,982.8 L1098.1,982.8 L1099.8,982.8 L1101.5,982.8 L1103.2,982.8 L1105.0,982.9 L1106.7,982.9 L1108.4,982.9 L1110.1,982.9 L1111.8,982.9 L1113.5,983.0 L1115.2,983.0 L1116.9,983.0 L1118.6,983.0 L1120.3,983.0 L1122.1,983.1 L1123.8,983.1 L1125.5,983.1 L1127.2,983.1 L1128.9,983.1 L1130.6,983.1 L1132.3,983.2 L1134.0,983.2 L1135.7,983.2 L1137.4,983.2 L1139.1,983.2 L1140.9,983.2 L1142.6,983.3 L1144.3,983.3 L1146.0,983.3 L1147.7,983.3 L1149.4,983.3 L1151.1,983.3 L1152.8,983.4 L1154.5,983.4 L1156.2,983.4 L1157.9,983.4 L1159.7,983.4 L1161.4,983.4 L1163.1,983.4 L1164.8,983.5 L1166.5,983.5 L1168.2,983.5 L1169.9,983.5 L1171.6,983.5 L1173.3,983.5 L1175.0,983.6 L1176.8,983.6 L1178.5,983.6 L1180.2,983.6 L1181.9,983.6 L1183.6,983.6 L1185.3,983.6 L1187.0,983.6 L1188.7,983.7 L1190.4,983.7 L1192.1,983.7 L1193.8,983.7 L1195.6,983.7 L1197.3,983.7 L1199.0,983.7 L1200.7,983.8 L1202.4,983.8 L1204.1,983.8 L1205.8,983.8 L1207.5,983.8 L1209.2,983.8 L1210.9,983.8 L1212.6,983.8 L1214.4,983.8 L1216.1,983.9 L1217.8,983.9 L1219.5,983.9 L1221.2,983.9 L1222.9,983.9 L1224.6,983.9 L1226.3,983.9 L1228.0,983.9 L1229.7,984.0 L1231.5,984.0 L1233.2,984.0 L1234.9,984.0 L1236.6,984.0 L1238.3,984.0 L1240.0,984.0 L1241.7,984.0 L1243.4,984.0 L1245.1,984.0 L1246.8,984.1 L1248.5,984.1 L1250.3,984.1 L1252.0,984.1 L1253.7,984.1 L1255.4,984.1 L1257.1,984.1 L1258.8,984.1 L1260.5,984.1 L1262.2,984.1 L1263.9,984.2 L1265.6,984.2 L1267.4,984.2 L1269.1,984.2 L1270.8,984.2 L1272.5,984.2 L1274.2,984.2 L1275.9,984.2 L1277.6,984.2 L1279.3,984.2 L1281.0,984.3 L1282.7,984.3 L1284.4,984.3 L1286.2,984.3 L1287.9,984.3 L1289.6,984.3 L1291.3,984.3 L1293.0,984.3 L1294.7,984.3 L1296.4,984.3 L1298.1,984.3 L1299.8,984.3 L1301.5,984.4 L1303.2,984.4 L1305.0,984.4 L1306.7,984.4 L1308.4,984.4 L1310.1,984.4 L1311.8,984.4 L1313.5,984.4 L1315.2,984.4 L1316.9,984.4 L1318.6,984.4 L1320.3,984.4 L1322.1,984.5 L1323.8,984.5 L1325.5,984.5 L1326.5,984.5" stroke="#0000ff" stroke-width="5.2"/>
<path d="M82.7,976.1 L84.4,976.0 L86.2,976.0 L87.9,975.9 L89.6,975.9 L91.3,975.8 L93.0,975.7 L94.7,975.7 L96.4,975.6 L98.1,975.5 L99.8,975.5 L101.5,975.4 L103.2,975.3 L105.0,975.3 L106.7,975.2 L108.4,975.1 L110.1,975.0 L111.8,975.0 L113.5,974.9 L115.2,974.8 L116.9,974.8 L118.6,974.7 L120.3,974.6 L122.1,974.5 L123.8,974.5 L125.5,974.4 L127.2,974.3 L128.9,974.2 L130.6,974.1 L132.3,974.1 L134.0,974.0 L135.7,973.9 L137.4,973.8 L139.1,973.7 L140.9,973.6 L142.6,973.6 L144.3,973.5 L146.0,973.4 L147.7,973.3 L149.4,973.2 L151.1,973.1 L152.8,973.0 L154.5,972.9 L156.2,972.9 L157.9,972.8 L159.7,972.7 L161.4,972.6 L163.1,972.5 L164.8,972.4 L166.5,972.3 L168.2,972.2 L169.9,972.1 L171.6,972.0 L173.3,971.9 L175.0,971.8 L176.8,971.7 L178.5,971.6 L180.2,971.5 L181.9,971.3 L183.6,971.2 L185.3,971.1 L187.0,971.0 L188.7,970.9 L190.4,970.8 L192.1,970.7 L193.8,970.6 L195.6,970.4 L197.3,970.3 L199.0,970.2 L200.7,970.1 L202.4,970.0 L204.1,969.8 L205.8,969.7 L207.5,969.6 L209.2,969.5 L210.9,969.3 L212.6,969.2 L214.4,969.1 L216.1,968.9 L217.8,968.8 L219.5,968.6 L221.2,968.5 L222.9,968.4 L224.6,968.2 L226.3,968.1 L228.0,967.9 L229.7,967.8 L231.5,967.6 L233.2,967.5 L234.9,967.3 L236.6,967.2 L238.3,967.0 L240.0,966.9 L241.7,966.7 L243.4,966.5 L245.1,966.4 L246.8,966.2 L248.5,966.0 L250.3,965.9 L252.0,965.7 L253.7,965.5 L255.4,965.3 L257.1,965.2 L258.8,965.0 L260.5,964.8 L262.2,964.6 L263.9,964.4 L265.6,964.2 L267.4,964.0 L269.1,963.8 L270.8,963.6 L272.5,963.4 L274.2,963.2 L275.9,963.0 L277.6,962.8 L279.3,962.6 L281.0,962.4 L282.7,962.2 L284.4,961.9 L286.2,961.7 L287.9,961.5 L289.6,961.3 L291.3,961.0 L293.0,960.8 L294.7,960.6 L296.4,960.3 L298.1,960.1 L299.8,959.8 L301.5,959.6 L303.2,959.3 L305.0,959.0 L306.7,958.8 L308.4,958.5 L310.1,958.2 L311.8,958.0 L313.5,957.7 L315.2,957.4 L316.9,957.1 L318.6,956.8 L320.3,956.5 L322.1,956.2 L323.8,955.9 L325.5,955.6 L327.2,955.3 L328.9,955.0 L330.6,954.6 L332.3,954.3 L334.0,954.0 L335.7,953.6 L337.4,953.3 L339.1,952.9 L340.9,952.6 L342.6,952.2 L344.3,951.9 L346.0,951.5 L347.7,951.1 L349.4,950.7 L351.1,950.3 L352.8,949.9 L354.5,949.5 L356.2,949.1 L357.9,948.7 L359.7,948.3 L361.4,947.8 L363.1,947.4 L364.8,947.0 L366.5,946.5 L368.2,946.0 L369.9,945.6 L371.6,945.1 L373.3,944.6 L375.0,944.1 L376.8,943.6 L378.5,943.1 L380.2,942.6 L381.9,942.1 L383.6,941.5 L385.3,941.0 L387.0,940.4 L388.7,939.9 L390.4,939.3 L392.1,938.7 L393.8,938.1 L395.6,937.5 L397.3,936.9 L399.0,936.3 L400.7,935.6 L402.4,935.0 L404.1,934.3 L405.8,933.6 L407.5,932.9 L409.2,932.2 L410.9,931.5 L412.6,930.8 L414.4,930.0 L416.1,929.3 L417.8,928.5 L419.5,927.7 L421.2,926.9 L422.9,926.1 L424.6,925.3 L426.3,924.4 L428.0,923.5 L429.7,922.7 L431.5,921.8 L433.2,920.8 L434.9,919.9 L436.6,918.9 L438.3,918.0 L440.0,917.0 L441.7,915.9 L443.4,914.9 L445.1,913.8 L446.8,912.8 L448.5,911.6 L450.3,910.5 L452.0,909.4 L453.7,908.2 L455.4,907.0 L457.1,905.8 L458.8,904.5 L460.5,903.2 L462.2,901.9 L463.9,900.6 L465.6,899.2 L467.4,897.8 L469.1,896.4 L470.8,894.9 L472.5,893.4 L474.2,891.9 L475.9,890.3 L477.6,888.7 L479.3,887.1 L481.0,885.4 L482.7,883.7 L484.4,881.9 L486.2,880.2 L487.9,878.3 L489.6,876.5 L491.3,874.5 L493.0,872.6 L494.7,870.6 L496.4,868.5 L498.1,866.4 L499.8,864.3 L501.5,862.1 L503.2,859.8 L505.0,857.5 L506.7,855.2 L508.4,852.8 L510.1,850.3 L511.8,847.8 L513.5,845.2 L515.2,842.5 L516.9,839.8 L518.6,837.0 L520.3,834.2 L522.1,831.3 L523.8,828.3 L525.5,825.3 L527.2,822.2 L528.9,819.0 L530.6,815.7 L532.3,812.4 L534.0,809.0 L535.7,805.5 L537.4,801.9 L539.1,798.3 L540.9,794.6 L542.6,790.8 L544.3,786.9 L546.0,782.9 L547.7,778.9 L549.4,774.8 L551.1,770.6 L552.8,766.3 L554.5,761.9 L556.2,757.4 L557.9,752.9 L559.7,748.3 L561.4,743.6 L563.1,738.8 L564.8,734.0 L566.5,729.0 L568.2,724.0 L569.9,719.0 L571.6,713.9 L573.3,708.7 L575.0,703.4 L576.8,698.1 L578.5,692.8 L580.2,687.4 L581.9,682.0 L583.6,676.6 L585.3,671.2 L587.0,665.7 L588.7,660.3 L590.4,654.8 L592.1,649.4 L593.8,644.0 L595.6,638.7 L597.3,633.4 L599.0,628.2 L600.7,623.1 L602.4,618.1 L604.1,613.2 L605.8,608.4 L607.5,603.7 L609.2,599.3 L610.9,594.9 L612.6,590.8 L614.4,586.9 L616.1,583.2 L617.8,579.7 L619.5,576.5 L621.2,573.6 L622.9,570.9 L624.6,568.5 L626.3,566.4 L628.0,564.6 L629.7,563.1 L631.5,561.9 L633.2,561.0 L634.9,560.5 L636.6,560.3 L638.3,560.4 L640.0,560.9 L641.7,561.7 L643.4,562.8 L645.1,564.2 L646.8,566.0 L648.5,568.0 L650.3,570.4 L652.0,573.0 L653.7,575.9 L655.4,579.1 L657.1,582.5 L658.8,586.2 L660.5,590.0 L662.2,594.1 L663.9,598.4 L665.6,602.8 L667.4,607.4 L669.1,612.2 L670.8,617.1 L672.5,622.1 L674.2,627.2 L675.9,632.4 L677.6,637.6 L679.3,643.0 L681.0,648.3 L682.7,653.7 L684.4,659.2 L686.2,664.6 L687.9,670.1 L689.6,675.5 L691.3,680.9 L693.0,686.4 L694.7,691.7 L696.4,697.1 L698.1,702.4 L699.8,707.6 L701.5,712.8 L703.2,718.0 L705.0,723.0 L706.7,728.0 L708.4,733.0 L710.1,737.8 L711.8,742.6 L713.5,747.3 L715.2,752.0 L716.9,756.5 L718.6,761.0 L720.3,765.4 L722.1,769.7 L723.8,773.9 L725.5,778.1 L727.2,782.1 L728.9,786.1 L730.6,790.0 L732.3,793.8 L734.0,797.6 L735.7,801.2 L737.4,804.8 L739.1,808.3 L740.9,811.7 L742.6,815.1 L744.3,818.3 L746.0,821.5 L747.7,824.7 L749.4,827.7 L751.1,830.7 L752.8,833.6 L754.5,836.5 L756.2,839.3 L757.9,842.0 L759.7,844.6 L761.4,847.2 L763.1,849.8 L764.8,852.3 L766.5,854.7 L768.2,857.1 L769.9,859.4 L771.6,861.6 L773.3,863.8 L775.0,866.0 L776.8,868.1 L778.5,870.2 L780.2,872.2 L781.9,874.2 L783.6,876.1 L785.3,878.0 L787.0,879.8 L788.7,881.6 L790.4,883.4 L792.1,885.1 L793.8,886.7 L795.6,888.4 L797.3,890.0 L799.0,891.6 L800.7,893.1 L802.4,894.6 L804.1,896.1 L805.8,897.5 L807.5,898.9 L809.2,900.3 L810.9,901.6 L812.6,903.0 L814.4,904.2 L816.1,905.5 L817.8,906.7 L819.5,907.9 L821.2,909.1 L822.9,910.3 L824.6,911.4 L826.3,912.5 L828.0,913.6 L829.7,914.7 L831.5,915.7 L833.2,916.8 L834.9,917.8 L836.6,918.7 L838.3,919.7 L840.0,920.7 L841.7,921.6 L843.4,922.5 L845.1,923.4 L846.8,924.2 L848.5,925.1 L850.3,925.9 L852.0,926.8 L853.7,927.6 L855.4,928.4 L857.1,929.1 L858.8,929.9 L860.5,930.6 L862.2,931.4 L863.9,932.1 L865.6,932.8 L867.4,933.5 L869.1,934.2 L870.8,934.8 L872.5,935.5 L874.2,936.1 L875.9,936.8 L877.6,937.4 L879.3,938.0 L881.0,938.6 L882.7,939.2 L884.4,939.8 L886.2,940.3 L887.9,940.9 L889.6,941.4 L891.3,942.0 L893.0,942.5 L894.7,943.0 L896.4,943.5 L898.1,944.0 L899.8,944.5 L901.5,945.0 L903.2,945.5 L905.0,946.0 L906.7,946.4 L908.4,946.9 L910.1,947.3 L911.8,947.8 L913.5,948.2 L915.2,948.6 L916.9,949.0 L918.6,949.4 L920.3,949.8 L922.1,950.2 L923.8,950.6 L925.5,951.0 L927.2,951.4 L928.9,951.8 L930.6,952.1 L932.3,952.5 L934.0,952.9 L935.7,953.2 L937.4,953.6 L939.1,953.9 L940.9,954.2 L942.6,954.6 L944.3,954.9 L946.0,955.2 L947.7,955.5 L949.4,955.8 L951.1,956.2 L952.8,956.5 L954.5,956.8 L956.2,957.0 L957.9,957.3 L959.7,957.6 L961.4,957.9 L963.1,958.2 L964.8,958.5 L966.5,958.7 L968.2,959.0 L969.9,959.3 L971.6,959.5 L973.3,959.8 L975.0,960.0 L976.8,960.3 L978.5,960.5 L980.2,960.7 L981.9,961.0 L983.6,961.2 L985.3,961.4 L987.0,961.7 L988.7,961.9 L990.4,962.1 L992.1,962.3 L993.8,962.6 L995.6,962.8 L997.3,963.0 L999.0,963.2 L1000.7,963.4 L1002.4,963.6 L1004.1,963.8 L1005.8,964.0 L1007.5,964.2 L1009.2,964.4 L1010.9,964.6 L1012.6,964.8 L1014.4,964.9 L1016.1,965.1 L1017.8,965.3 L1019.5,965.5 L1021.2,965.7 L1022.9,965.8 L1024.6,966.0 L1026.3,966.2 L1028.0,966.3 L1029.7,966.5 L1031.5,966.7 L1033.2,966.8 L1034.9,967.0 L1036.6,967.1 L1038.3,967.3 L1040.0,967.5 L1041.7,967.6 L1043.4,967.8 L1045.1,967.9 L1046.8,968.1 L1048.5,968.2 L1050.3,968.3 L1052.0,968.5 L1053.7,968.6 L1055.4,968.8 L1057.1,968.9 L1058.8,969.0 L1060.5,969.2 L1062.2,969.3 L1063.9,969.4 L1065.6,969.6 L1067.4,969.7 L1069.1,969.8 L1070.8,969.9 L1072.5,970.1 L1074.2,970.2 L1075.9,970.3 L1077.6,970.4 L1079.3,970.5 L1081.0,970.7 L1082.7,970.8 L1084.4,970.9 L1086.2,971.0 L1087.9,971.1 L1089.6,971.2 L1091.3,971.3 L1093.0,971.4 L1094.7,971.5 L1096.4,971.6 L1098.1,971.8 L1099.8,971.9 L1101.5,972.0 L1103.2,972.1 L1105.0,972.2 L1106.7,972.3 L1108.4,972.4 L1110.1,972.5 L1111.8,972.6 L1113.5,972.6 L1115.2,972.7 L1116.9,972.8 L1118.6,972.9 L1120.3,973.0 L1122.1,973.1 L1123.8,973.2 L1125.5,973.3 L1127.2,973.4 L1128.9,973.5 L1130.6,973.5 L1132.3,973.6 L1134.0,973.7 L1135.7,973.8 L1137.4,973.9 L1139.1,974.0 L1140.9,974.0 L1142.6,974.1 L1144.3,974.2 L1146.0,974.3 L1147.7,974.4 L1149.4,974.4 L1151.1,974.5 L1152.8,974.6 L1154.5,974.7 L1156.2,974.7 L1157.9,974.8 L1159.7,974.9 L1161.4,975.0 L1163.1,975.0 L1164.8,975.1 L1166.5,975.2 L1168.2,975.2 L1169.9,975.3 L1171.6,975.4 L1173.3,975.4 L1175.0,975.5 L1176.8,975.6 L1178.5,975.6 L1180.2,975.7 L1181.9,975.8 L1183.6,975.8 L1185.3,975.9 L1187.0,976.0 L1188.7,976.0 L1190.4,976.1 L1192.1,976.2 L1193.8,976.2 L1195.6,976.3 L1197.3,976.3 L1199.0,976.4 L1200.7,976.5 L1202.4,976.5 L1204.1,976.6 L1205.8,976.6 L1207.5,976.7 L1209.2,976.7 L1210.9,976.8 L1212.6,976.8 L1214.4,976.9 L1216.1,977.0 L1217.8,977.0 L1219.5,977.1 L1221.2,977.1 L1222.9,977.2 L1224.6,977.2 L1226.3,977.3 L1228.0,977.3 L1229.7,977.4 L1231.5,977.4 L1233.2,977.5 L1234.9,977.5 L1236.6,977.6 L1238.3,977.6 L1240.0,977.7 L1241.7,977.7 L1243.4,977.8 L1245.1,977.8 L1246.8,977.9 L1248.5,977.9 L1250.3,977.9 L1252.0,978.0 L1253.7,978.0 L1255.4,978.1 L1257.1,978.1 L1258.8,978.2 L1260.5,978.2 L1262.2,978.3 L1263.9,978.3 L1265.6,978.3 L1267.4,978.4 L1269.1,978.4 L1270.8,978.5 L1272.5,978.5 L1274.2,978.6 L1275.9,978.6 L1277.6,978.6 L1279.3,978.7 L1281.0,978.7 L1282.7,978.8 L1284.4,978.8 L1286.2,978.8 L1287.9,978.9 L1289.6,978.9 L1291.3,978.9 L1293.0,979.0 L1294.7,979.0 L1296.4,979.1 L1298.1,979.1 L1299.8,979.1 L1301.5,979.2 L1303.2,979.2 L1305.0,979.2 L1306.7,979.3 L1308.4,979.3 L1310.1,979.3 L1311.8,979.4 L1313.5,979.4 L1315.2,979.4 L1316.9,979.5 L1318.6,979.5 L1320.3,979.5 L1322.1,979.6 L1323.8,979.6 L1325.5,979.6 L1326.5,979.7" stroke="#008000" stroke-width="5.2"/>
</g>
<g id="axes" stroke="#000" fill="none">
<g stroke-width="3.7"><line x1="94.5" y1="82.8" x2="1554.3" y2="82.8"/><line x1="94.5" y1="1087.1" x2="1554.3" y2="1087.1"/></g>
<g stroke-width="4.6"><line x1="96.8" y1="82.8" x2="96.8" y2="1087.1"/><line x1="1552.0" y1="82.8" x2="1552.0" y2="1087.1"/>
<line x1="96.8" y1="82.8" x2="96.8" y2="101.5"/>
<line x1="96.8" y1="1087.1" x2="96.8" y2="1105.8"/>
<line x1="200.7" y1="82.8" x2="200.7" y2="92.7"/>
<line x1="200.7" y1="1087.1" x2="200.7" y2="1097.0"/>
<line x1="304.7" y1="82.8" x2="304.7" y2="101.5"/>
<line x1="304.7" y1="1087.1" x2="304.7" y2="1105.8"/>
<line x1="408.6" y1="82.8" x2="408.6" y2="92.7"/>
<line x1="408.6" y1="1087.1" x2="408.6" y2="1097.0"/>
<line x1="512.6" y1="82.8" x2="512.6" y2="101.5"/>
<line x1="512.6" y1="1087.1" x2="512.6" y2="1105.8"/>
<line x1="616.5" y1="82.8" x2="616.5" y2="92.7"/>
<line x1="616.5" y1="1087.1" x2="616.5" y2="1097.0"/>
<line x1="720.5" y1="82.8" x2="720.5" y2="101.5"/>
<line x1="720.5" y1="1087.1" x2="720.5" y2="1105.8"/>
<line x1="824.4" y1="82.8" x2="824.4" y2="92.7"/>
<line x1="824.4" y1="1087.1" x2="824.4" y2="1097.0"/>
<line x1="928.3" y1="82.8" x2="928.3" y2="101.5"/>
<line x1="928.3" y1="1087.1" x2="928.3" y2="1105.8"/>
<line x1="1032.3" y1="82.8" x2="1032.3" y2="92.7"/>
<line x1="1032.3" y1="1087.1" x2="1032.3" y2="1097.0"/>
<line x1="1136.2" y1="82.8" x2="1136.2" y2="101.5"/>
<line x1="1136.2" y1="1087.1" x2="1136.2" y2="1105.8"/>
<line x1="1240.2" y1="82.8" x2="1240.2" y2="92.7"/>
<line x1="1240.2" y1="1087.1" x2="1240.2" y2="1097.0"/>
<line x1="1344.1" y1="82.8" x2="1344.1" y2="101.5"/>
<line x1="1344.1" y1="1087.1" x2="1344.1" y2="1105.8"/>
<line x1="1448.1" y1="82.8" x2="1448.1" y2="92.7"/>
<line x1="1448.1" y1="1087.1" x2="1448.1" y2="1097.0"/>
<line x1="1552.0" y1="82.8" x2="1552.0" y2="101.5"/>
<line x1="1552.0" y1="1087.1" x2="1552.0" y2="1105.8"/>
</g>
</g>
<g id="ticklabels" stroke-width="0.35">
<text transform="translate(96.8,55.3) scale(1.150,1)" text-anchor="middle" font-size="39.5">300</text>
<text transform="translate(96.8,1149.3) scale(1.150,1)" text-anchor="middle" font-size="39.5">300</text>
<text transform="translate(304.7,55.3) scale(1.150,1)" text-anchor="middle" font-size="39.5">400</text>
<text transform="translate(304.7,1149.3) scale(1.150,1)" text-anchor="middle" font-size="39.5">400</text>
<text transform="translate(512.6,55.3) scale(1.150,1)" text-anchor="middle" font-size="39.5">500</text>
<text transform="translate(512.6,1149.3) scale(1.150,1)" text-anchor="middle" font-size="39.5">500</text>
<text transform="translate(720.5,55.3) scale(1.150,1)" text-anchor="middle" font-size="39.5">600</text>
<text transform="translate(720.5,1149.3) scale(1.150,1)" text-anchor="middle" font-size="39.5">600</text>
<text transform="translate(928.3,55.3) scale(1.150,1)" text-anchor="middle" font-size="39.5">700</text>
<text transform="translate(928.3,1149.3) scale(1.150,1)" text-anchor="middle" font-size="39.5">700</text>
<text transform="translate(1136.2,55.3) scale(1.150,1)" text-anchor="middle" font-size="39.5">800</text>
<text transform="translate(1136.2,1149.3) scale(1.150,1)" text-anchor="middle" font-size="39.5">800</text>
<text transform="translate(1344.1,55.3) scale(1.150,1)" text-anchor="middle" font-size="39.5">900</text>
<text transform="translate(1344.1,1149.3) scale(1.150,1)" text-anchor="middle" font-size="39.5">900</text>
<text transform="translate(1552.0,55.3) scale(1.150,1)" text-anchor="middle" font-size="39.5">1000</text>
<text transform="translate(1552.0,1149.3) scale(1.150,1)" text-anchor="middle" font-size="39.5">1000</text>
</g>
<text transform="translate(1228,205.5) scale(1.135,1)" font-size="39.5">Ni-20Cr</text>
<text transform="translate(1228,300) scale(1.135,1)" font-size="39.5" word-spacing="-0.5">E = -0.65V</text>
<g clip-path="url(#xt)"><text transform="translate(829.0,1203.3) scale(1.187,1)" text-anchor="middle" font-size="59">Raman shift (cm-1)</text></g>
<text transform="translate(71.2,851.1) rotate(-90) scale(1,1.218)" font-size="54.6" stroke-width="1.0">Raman intensity (<tspan letter-spacing="2">a.u</tspan>)</text>
</g>
</svg>
</body></html>
